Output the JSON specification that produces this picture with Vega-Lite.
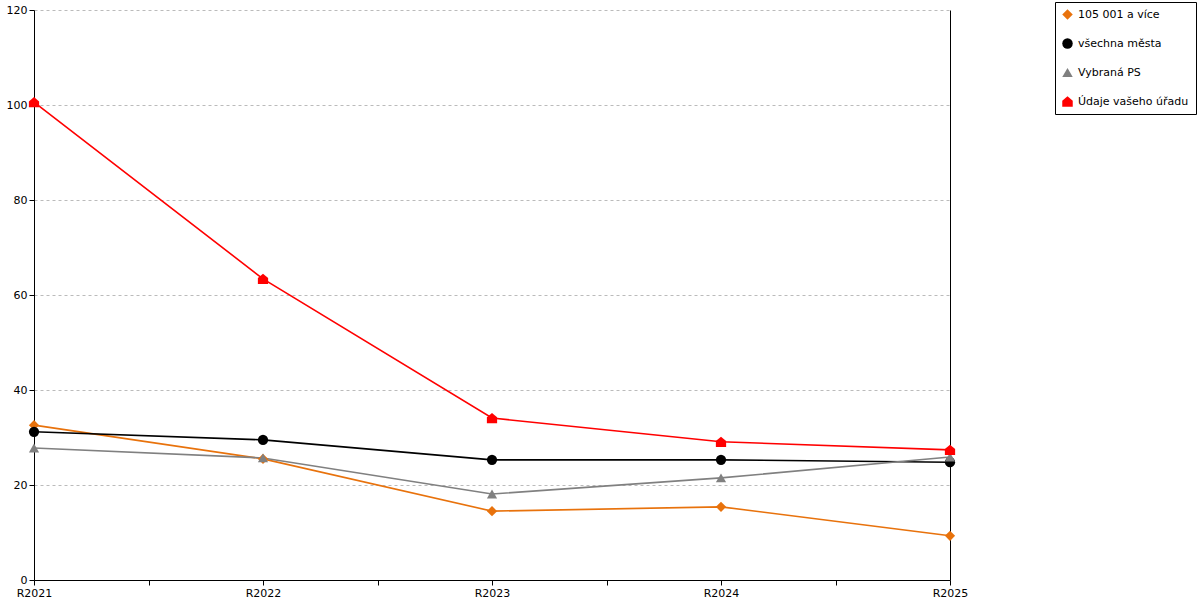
{
  "$schema": "https://vega.github.io/schema/vega-lite/v6.json",
  "width": 916,
  "height": 570,
  "autosize": "none",
  "padding": {"left": 34, "top": 10, "right": 250, "bottom": 20},
  "background": "white",
  "config": {
    "font": "DejaVu Sans",
    "view": {"stroke": null},
    "axis": {
      "labelFont": "DejaVu Sans",
      "labelFontSize": 11,
      "labelColor": "black",
      "domainColor": "black",
      "tickColor": "black",
      "tickSize": 5,
      "labelPadding": 2
    },
    "legend": {
      "labelFont": "DejaVu Sans",
      "labelFontSize": 11,
      "labelColor": "black"
    }
  },
  "data": {
    "values": [
      {"series": "105 001 a více", "year": 2021, "value": 32.6},
      {"series": "105 001 a více", "year": 2022, "value": 25.5},
      {"series": "105 001 a více", "year": 2023, "value": 14.5},
      {"series": "105 001 a více", "year": 2024, "value": 15.4},
      {"series": "105 001 a více", "year": 2025, "value": 9.3},
      {"series": "všechna města", "year": 2021, "value": 31.2},
      {"series": "všechna města", "year": 2022, "value": 29.5},
      {"series": "všechna města", "year": 2023, "value": 25.3},
      {"series": "všechna města", "year": 2024, "value": 25.3},
      {"series": "všechna města", "year": 2025, "value": 24.8},
      {"series": "Vybraná PS", "year": 2021, "value": 27.8},
      {"series": "Vybraná PS", "year": 2022, "value": 25.7},
      {"series": "Vybraná PS", "year": 2023, "value": 18.1},
      {"series": "Vybraná PS", "year": 2024, "value": 21.5},
      {"series": "Vybraná PS", "year": 2025, "value": 25.9},
      {"series": "Údaje vašeho úřadu", "year": 2021, "value": 100.6},
      {"series": "Údaje vašeho úřadu", "year": 2022, "value": 63.4},
      {"series": "Údaje vašeho úřadu", "year": 2023, "value": 34.1},
      {"series": "Údaje vašeho úřadu", "year": 2024, "value": 29.1},
      {"series": "Údaje vašeho úřadu", "year": 2025, "value": 27.4}
    ]
  },
  "encoding": {
    "x": {
      "field": "year",
      "type": "quantitative",
      "scale": {"domain": [2021, 2025], "nice": false, "zero": false},
      "axis": {
        "title": null,
        "grid": false,
        "values": [2021, 2021.5, 2022, 2022.5, 2023, 2023.5, 2024, 2024.5, 2025],
        "labelExpr": "datum.value % 1 === 0 ? 'R' + datum.value : ''",
        "labelFlush": false,
        "labelOverlap": false
      }
    },
    "color": {
      "field": "series",
      "type": "nominal",
      "sort": ["105 001 a více", "všechna města", "Vybraná PS", "Údaje vašeho úřadu"],
      "scale": {
        "domain": ["105 001 a více", "všechna města", "Vybraná PS", "Údaje vašeho úřadu"],
        "range": ["#E8720C", "#000000", "#808080", "#FF0000"]
      },
      "legend": {
        "title": null,
        "orient": "none",
        "legendX": 1021,
        "legendY": -8,
        "strokeColor": "black",
        "fillColor": "white",
        "padding": 7,
        "rowPadding": 17,
        "symbolSize": 110,
        "symbolStrokeWidth": 0,
        "labelOffset": 5
      }
    }
  },
  "layer": [
    {
      "mark": {"type": "line", "strokeWidth": 1.6},
      "encoding": {
        "y": {
          "field": "value",
          "type": "quantitative",
          "scale": {"domain": [0, 120], "nice": false},
          "axis": {
            "title": null,
            "values": [0, 20, 40, 60, 80, 100, 120],
            "grid": true,
            "gridColor": "#bbbbbb",
            "gridDash": [3, 3],
            "labelPadding": 2
          }
        }
      }
    },
    {
      "mark": {"type": "point", "filled": true, "opacity": 1, "size": 105},
      "encoding": {
        "y": {
          "field": "value",
          "type": "quantitative",
          "scale": {"domain": [0, 120], "nice": false},
          "axis": {
            "orient": "right",
            "title": null,
            "labels": false,
            "ticks": false,
            "grid": false,
            "domain": true
          }
        },
        "shape": {
          "field": "series",
          "type": "nominal",
          "sort": ["105 001 a více", "všechna města", "Vybraná PS", "Údaje vašeho úřadu"],
          "scale": {
            "domain": ["105 001 a více", "všechna města", "Vybraná PS", "Údaje vašeho úřadu"],
            "range": ["diamond", "circle", "triangle-up", "M-1,1L1,1L1,-0.15L0,-1L-1,-0.15Z"]
          },
          "legend": {
            "title": null,
            "orient": "none",
            "legendX": 1021,
            "legendY": -8,
            "strokeColor": "black",
            "fillColor": "white",
            "padding": 7,
            "rowPadding": 17,
            "symbolSize": 110,
            "symbolStrokeWidth": 0,
            "labelOffset": 5
          }
        }
      }
    }
  ],
  "resolve": {"axis": {"y": "independent"}}
}
